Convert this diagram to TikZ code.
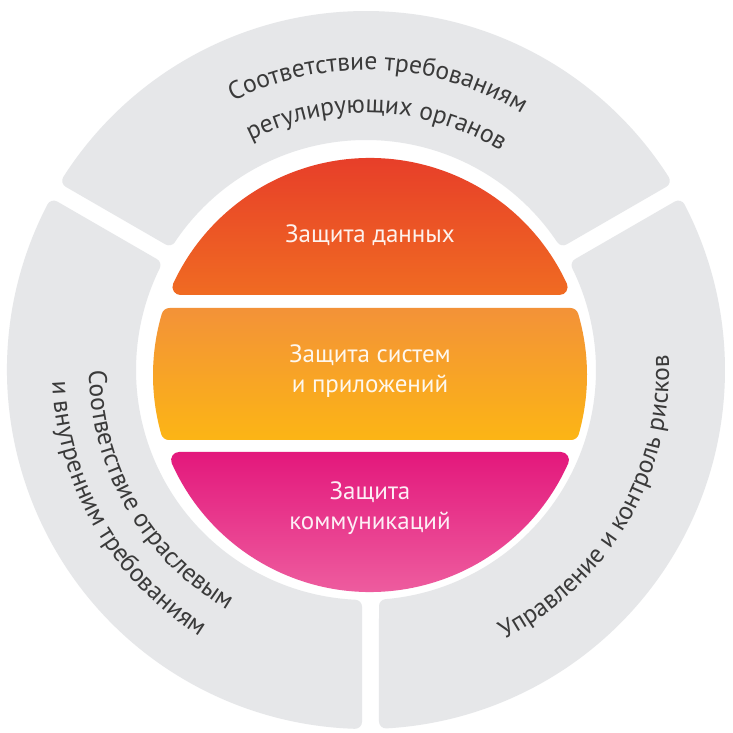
\documentclass[tikz,border=0pt]{standalone}
\usepackage{fontspec}
\setmainfont{PT Sans}
\usetikzlibrary{decorations.text}
\definecolor{ringgrey}{HTML}{E6E7E9}
\definecolor{ringtext}{HTML}{3A3A3A}
\definecolor{redA}{HTML}{E5352B}
\definecolor{redB}{HTML}{F15E2C}
\definecolor{redC}{HTML}{F06B22}
\definecolor{oraA}{HTML}{F39238}
\definecolor{oraB}{HTML}{F8A22A}
\definecolor{oraC}{HTML}{FCB515}
\definecolor{pinkA}{HTML}{E3187C}
\definecolor{pinkB}{HTML}{EC3A8A}
\definecolor{pinkC}{HTML}{F06BA6}
% #1,#2: start and end ray angles; #3,#4: inset of the two straight edges
\newcommand\RingSeg[4]{%
  \pgfmathsetmacro\segAo{#1+asin(#3/\Ro)}%
  \pgfmathsetmacro\segBo{#2-asin(#4/\Ro)}%
  \pgfmathsetmacro\segAi{#1+asin(#3/\Ri)}%
  \pgfmathsetmacro\segBi{#2-asin(#4/\Ri)}%
  \filldraw[ringseg] (\segAo:\Ro) arc[start angle=\segAo, end angle=\segBo, radius=\Ro]
    -- (\segBi:\Ri) arc[start angle=\segBi, end angle=\segAi, radius=\Ri] -- cycle;
}
\newcommand\ringfont{\fontsize{25.5}{30}\selectfont}
\begin{document}
\begin{tikzpicture}[x=1pt,y=1pt,
  ringseg/.style={fill=ringgrey, draw=ringgrey, line width=14pt, line join=round},
  disktext/.style={text=white, text opacity=0.92, font=\fontsize{25}{30}\selectfont, align=center, inner sep=0pt},
  ringlabel/.style={decorate, decoration={text along path, text align=center, text color=ringtext}}]
\useasboundingbox (0,0) rectangle (732,733);
\fill[white] (0,0) rectangle (732,733);
% outer ring
\def\Ro{352}\def\Ri{237}
\begin{scope}[shift={(366,363)}]
  \RingSeg{30}{150}{15.5}{15.5}
  \RingSeg{150}{270}{15.5}{11}
  \RingSeg{270}{390}{20}{15.5}
  % ring labels
  \path[ringlabel, decoration={text={|\ringfont|Соответствие требованиям}}]
    (162.5:300) arc[start angle=162.5, end angle=12.5, radius=300];
  \path[ringlabel, decoration={text={|\ringfont|регулирующих органов}}]
    (162.5:257) arc[start angle=162.5, end angle=12.5, radius=257];
  \path[ringlabel, decoration={text={|\ringfont|Соответствие отраслевым}}]
    (145:277) arc[start angle=145, end angle=275, radius=277];
  \path[ringlabel, decoration={text={|\ringfont|и внутренним требованиям}}]
    (145:314) arc[start angle=145, end angle=275, radius=314];
  \path[ringlabel, decoration={text={|\ringfont|Управление и контроль рисков}}]
    (265:303) arc[start angle=265, end angle=395, radius=303];
\end{scope}
% inner disk
\begin{scope}[shift={(370,358)}]
  \pgfmathsetmacro\tX{10*sqrt(20.9^2-8.8^2)}
  \pgfmathsetmacro\tP{atan2(88,\tX)}
  \shade[top color=redA, middle color=redB, bottom color=redC]
    (-\tX,80) -- (\tX,80) arc[start angle=-90, end angle=\tP, radius=8]
    arc[start angle=\tP, end angle=180-\tP, radius=217]
    arc[start angle=180-\tP, end angle=270, radius=8] -- cycle;
  \pgfmathsetmacro\mXt{10*sqrt(20.9^2-5.9^2)}
  \pgfmathsetmacro\mPt{atan2(59,\mXt)}
  \pgfmathsetmacro\mXb{10*sqrt(20.9^2-5.7^2)}
  \pgfmathsetmacro\mPb{atan2(-57,\mXb)}
  \shade[top color=oraA, middle color=oraB, bottom color=oraC]
    (-\mXt,67) -- (\mXt,67) arc[start angle=90, end angle=\mPt, radius=8]
    arc[start angle=\mPt, end angle=\mPb, radius=217]
    arc[start angle=\mPb, end angle=-90, radius=8]
    -- (-\mXb,-65) arc[start angle=270, end angle=180-\mPb, radius=8]
    arc[start angle=180-\mPb, end angle=180-\mPt, radius=217]
    arc[start angle=180-\mPt, end angle=90, radius=8] -- cycle;
  \pgfmathsetmacro\bX{10*sqrt(20.9^2-8.5^2)}
  \pgfmathsetmacro\bP{atan2(-85,\bX)}
  \shade[top color=pinkA, middle color=pinkB, bottom color=pinkC]
    (-\bX,-77) -- (\bX,-77) arc[start angle=90, end angle=\bP, radius=8]
    arc[start angle=\bP, end angle=-180-\bP, radius=217]
    arc[start angle=-180-\bP, end angle=-270, radius=8] -- cycle;
\end{scope}
\node[disktext, anchor=base] (data) at (370,490) {Защита данных};
\node[disktext, anchor=base] (sys) at (370,340) {Защита систем\\и приложений};
\node[disktext, anchor=base] (comm) at (370,203) {Защита\\коммуникаций};
\end{tikzpicture}
\end{document}
